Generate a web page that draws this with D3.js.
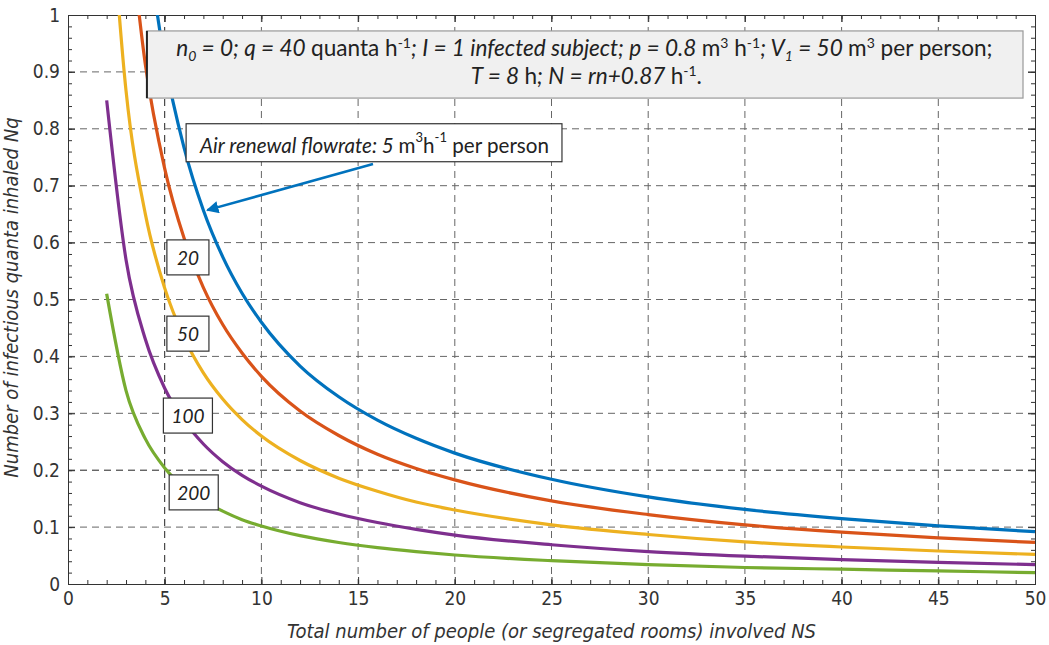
<!DOCTYPE html>
<html>
<head>
<meta charset="utf-8">
<script src="https://cdn.jsdelivr.net/npm/d3@7"></script>
<style>
  body { margin: 0; background: #fff; }
  .tick text { font-family: "DejaVu Sans", sans-serif; font-stretch: condensed; font-size: 19px; fill: #333; }
  .axis path, .axis line { stroke: #333; }
</style>
</head>
<body>
<div id="chart-area"></div>
<script>
// DATA
var peopleNS = [2, 3, 4, 5, 6, 7, 8, 9, 10, 12, 14, 16, 18, 20, 25, 30, 35, 40, 45, 50];
var flow5   = [null, null, 1.15, 0.92, 0.767, 0.657, 0.575, 0.511, 0.46, 0.383, 0.329, 0.288, 0.256, 0.23, 0.184, 0.153, 0.131, 0.115, 0.102, 0.092];
var flow20  = [null, 1.217, 0.913, 0.73, 0.608, 0.521, 0.456, 0.406, 0.365, 0.304, 0.261, 0.228, 0.203, 0.183, 0.146, 0.122, 0.104, 0.091, 0.081, 0.073];
var flow50  = [1.3, 0.867, 0.65, 0.52, 0.433, 0.371, 0.325, 0.289, 0.26, 0.217, 0.186, 0.163, 0.144, 0.13, 0.104, 0.087, 0.074, 0.065, 0.058, 0.052];
var flow100 = [0.85, 0.57, 0.43, 0.344, 0.287, 0.246, 0.215, 0.191, 0.172, 0.143, 0.123, 0.108, 0.096, 0.086, 0.069, 0.057, 0.049, 0.043, 0.038, 0.034];
var flow200 = [0.51, 0.34, 0.255, 0.204, 0.17, 0.146, 0.128, 0.113, 0.102, 0.085, 0.073, 0.064, 0.057, 0.051, 0.041, 0.034, 0.029, 0.026, 0.023, 0.02];
var seriesNames = ["5", "20", "50", "100", "200"];
var seriesColors = ["#0072BD", "#D95319", "#EDB120", "#7E2F8E", "#77AC30"];
var xTicks = [0, 5, 10, 15, 20, 25, 30, 35, 40, 45, 50];
var yTicks = [0, 0.1, 0.2, 0.3, 0.4, 0.5, 0.6, 0.7, 0.8, 0.9, 1];

//Margin
var margin = { top: 15, right: 14, bottom: 61, left: 68 };
var width = 1049 - margin.left - margin.right;
var height = 645 - margin.top - margin.bottom;

var svg = d3.select("#chart-area")
    .append("svg")
    .attr("width", 1049)
    .attr("height", 645);

var g = svg.append("g")
    .attr("transform", "translate(" + margin.left + ", " + margin.top + ")");

// SCALES
var x = d3.scaleLinear().domain([0, 50]).range([0, width]);
var y = d3.scaleLinear().domain([0, 1]).range([height, 0]);

// GRID
var grid = g.append("g").attr("class", "grid");
grid.selectAll(".vgrid").data(xTicks.slice(1, -1))
    .enter().append("line")
    .attr("x1", d => x(d)).attr("x2", d => x(d))
    .attr("y1", 0).attr("y2", height)
    .attr("stroke", d => d === 5 ? "#222" : "#666")
    .attr("stroke-width", 1)
    .attr("stroke-dasharray", "7,5");
grid.selectAll(".hgrid").data(yTicks.slice(1, -1))
    .enter().append("line")
    .attr("y1", d => y(d)).attr("y2", d => y(d))
    .attr("x1", 0).attr("x2", width)
    .attr("stroke", d => Math.abs(d - 0.2) < 1e-9 ? "#222" : "#666")
    .attr("stroke-width", 1)
    .attr("stroke-dasharray", "7,5");

//AXIS (ticks inward, box on)
var minorX = d3.range(0, 51, 1);
var minorY = d3.range(0, 1.001, 0.02);

g.append("g").attr("class", "axis")
    .attr("transform", "translate(0, " + height + ")")
    .call(d3.axisBottom(x).tickValues(xTicks).tickSize(-7).tickPadding(8).tickFormat(d3.format("d")));
g.append("g").attr("class", "axis")
    .attr("transform", "translate(0, " + height + ")")
    .call(d3.axisBottom(x).tickValues(minorX).tickSize(-4).tickFormat(""));
g.append("g").attr("class", "axis")
    .call(d3.axisTop(x).tickValues(xTicks).tickSize(-7).tickFormat(""));
g.append("g").attr("class", "axis")
    .call(d3.axisTop(x).tickValues(minorX).tickSize(-4).tickFormat(""));

g.append("g").attr("class", "axis")
    .call(d3.axisLeft(y).tickValues(yTicks).tickSize(-7).tickPadding(8).tickFormat(d => d === 0 || d === 1 ? d : d3.format(".1f")(d)));
g.append("g").attr("class", "axis")
    .call(d3.axisLeft(y).tickValues(minorY).tickSize(-4).tickFormat(""));
g.append("g").attr("class", "axis")
    .attr("transform", "translate(" + width + ", 0)")
    .call(d3.axisRight(y).tickValues(yTicks).tickSize(-7).tickFormat(""));
g.append("g").attr("class", "axis")
    .attr("transform", "translate(" + width + ", 0)")
    .call(d3.axisRight(y).tickValues(minorY).tickSize(-4).tickFormat(""));

g.selectAll(".axis .domain").attr("stroke", "#333");

// AXIS LABELS
g.append("text")
    .attr("x", width / 2)
    .attr("y", height + 54)
    .attr("text-anchor", "middle")
    .attr("font-family", "DejaVu Sans, sans-serif")
    .style("font-stretch", "condensed")
    .attr("font-style", "italic")
    .attr("font-size", "20px")
    .attr("fill", "#333")
    .text("Total number of people (or segregated rooms) involved NS");

g.append("text")
    .attr("transform", "rotate(-90)")
    .attr("x", -(y(0.5) - 2))
    .attr("y", -50)
    .attr("text-anchor", "middle")
    .attr("font-family", "DejaVu Sans, sans-serif")
    .style("font-stretch", "condensed")
    .attr("font-style", "italic")
    .attr("font-size", "20px")
    .attr("fill", "#333")
    .text("Number of infectious quanta inhaled Nq");

// CURVES
g.append("clipPath").attr("id", "plot-clip")
    .append("rect").attr("width", width).attr("height", height);

var allSeries = [flow5, flow20, flow50, flow100, flow200];
var line = d3.line()
    .x(d => x(d[0]))
    .y(d => y(d[1]))
    .curve(d3.curveMonotoneX);

g.append("g").attr("clip-path", "url(#plot-clip)")
    .selectAll("path").data(allSeries)
    .enter().append("path")
    .attr("d", vals => line(vals.map((v, i) => [peopleNS[i], v]).filter(d => d[1] !== null)))
    .attr("fill", "none")
    .attr("stroke", (d, i) => seriesColors[i])
    .attr("stroke-width", 3.2)
    .attr("stroke-linejoin", "round");

// ANNOTATIONS
var labelFont = "Lato, 'Open Sans', sans-serif";

// rich text: segments of [text, italic?, shift] where shift is "sup", "sub" or none
function richText(t, segs, size) {
    var prev = 0;
    segs.forEach(s => {
        var shift = s[2] === "sup" ? -8 : s[2] === "sub" ? 5 : 0;
        var ts = t.append("tspan")
            .attr("font-style", s[1] ? "italic" : "normal")
            .attr("font-size", shift !== 0 ? Math.round(size * 0.62) + "px" : size + "px")
            .text(s[0]);
        if (shift !== prev) ts.attr("dy", shift - prev);
        prev = shift;
    });
}

function labelBox(cx, cy, padX, padY, build) {
    var box = g.append("g");
    var rect = box.append("rect");
    var t = box.append("text")
        .attr("x", x(cx)).attr("y", y(cy))
        .attr("text-anchor", "middle")
        .attr("dominant-baseline", "central")
        .attr("font-family", labelFont)
        .attr("fill", "#222");
    build(t);
    var bb = t.node().getBBox();
    rect.attr("x", bb.x - padX).attr("y", bb.y - padY)
        .attr("width", bb.width + 2 * padX).attr("height", bb.height + 2 * padY)
        .attr("fill", "#fff").attr("stroke", "#333").attr("stroke-width", 1.2);
    return box;
}

var labelPos = [null, [6.2, 0.574], [6.2, 0.44], [6.2, 0.296], [6.5, 0.161]];
labelPos.forEach((p, i) => {
    if (!p) return;
    labelBox(p[0], p[1], i >= 3 ? 8 : 10, 6, t => {
        t.attr("font-size", "19px").attr("font-style", "italic").text(seriesNames[i]);
    });
});

// arrow to the 5 m3/h curve
svg.append("defs").append("marker")
    .attr("id", "arrow-blue")
    .attr("viewBox", "0 0 10 10")
    .attr("refX", 9).attr("refY", 5)
    .attr("markerWidth", 5).attr("markerHeight", 5)
    .attr("orient", "auto")
    .append("path").attr("d", "M0,0 L10,5 L0,10 Z").attr("fill", seriesColors[0]);

g.append("line")
    .attr("x1", x(15.77)).attr("y1", y(0.738))
    .attr("x2", x(7.2)).attr("y2", y(0.657))
    .attr("stroke", seriesColors[0])
    .attr("stroke-width", 2.5)
    .attr("marker-end", "url(#arrow-blue)");

labelBox(15.85, 0.772, 13, 5, t => {
    richText(t, [
        ["Air renewal flowrate: 5 ", true], ["m", false], ["3", false, "sup"],
        ["h", false], ["-1", false, "sup"], [" per person", false]
    ], 20.6);
});

// top info box
var info = g.append("g");
info.append("rect")
    .attr("x", x(4.08)).attr("y", y(0.972))
    .attr("width", x(49.38) - x(4.08)).attr("height", y(0.854) - y(0.972))
    .attr("fill", "#f0f0f0").attr("stroke", "#999").attr("stroke-width", 1.2);
info.append("line")
    .attr("x1", x(4.08)).attr("x2", x(4.08))
    .attr("y1", y(0.972)).attr("y2", y(0.854))
    .attr("stroke", "#222").attr("stroke-width", 2);

var line1 = info.append("text")
    .attr("x", x(26.7)).attr("y", y(0.928))
    .attr("text-anchor", "middle")
    .attr("font-family", labelFont)
    .attr("fill", "#222");
richText(line1, [
    ["n", true], ["0", true, "sub"], [" = 0; q = 40 ", true], ["quanta h", false], ["-1", false, "sup"],
    ["; I = 1 infected subject; p = 0.8 ", true], ["m", false], ["3", false, "sup"],
    [" h", false], ["-1", false, "sup"], ["; V", true], ["1", true, "sub"], [" = 50 ", true],
    ["m", false], ["3", false, "sup"], [" per person;", false]
], 22.6);

var line2 = info.append("text")
    .attr("x", x(26.8)).attr("y", y(0.878))
    .attr("text-anchor", "middle")
    .attr("font-family", labelFont)
    .attr("fill", "#222");
richText(line2, [
    ["T = 8 ", true], ["h", false], ["; N = rn+0.87 ", true], ["h", false], ["-1", false, "sup"], [".", false]
], 22.6);
</script>
</body>
</html>
